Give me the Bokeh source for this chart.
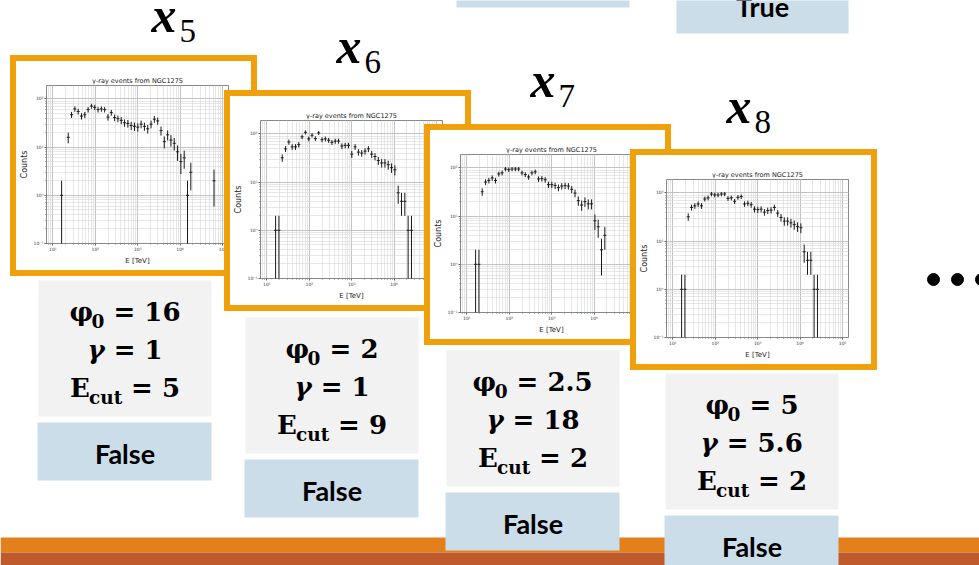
import math

from bokeh.core.properties import value
from bokeh.embed import file_html
from bokeh.layouts import column
from bokeh.models import ColumnDataSource, CustomJSTickFormatter, LogTicker, Range1d
from bokeh.plotting import figure
from bokeh.resources import INLINE

# ---------------------------------------------------------------- data
# bin centres of the energy histogram [TeV]
energy_tev = [16.07, 19.24, 23.02, 27.56, 32.99, 39.49, 47.27, 56.58, 67.73, 81.08,
              97.05, 116.2, 139.1, 166.5, 199.3, 238.5, 285.5, 341.8, 409.1, 489.7,
              586.1, 701.6, 839.8, 1005, 1203, 1440, 1724, 2064, 2471, 2957,
              3540, 4238, 5073, 6072, 7268, 8700, 10414, 12466, 14922, 17862,
              21380, 25592, 30634, 36669, 43893, 52540, 62891, 75281]

# counted events per bin for the four simulated samples (0 = empty bin)
counts_x5 = [1, 0, 16, 47, 62, 55, 44, 47, 60, 71, 67, 60, 62, 60, 42, 52, 41, 39, 36, 32,
             31, 28, 27, 26, 30, 27, 24, 30, 38, 35, 22, 13, 18, 14, 12, 8, 5, 6, 1, 3,
             0, 0, 0, 0, 0, 0, 2, 0]
counts_x6 = [1, 1, 32, 49, 68, 54, 54, 60, 87, 108, 79, 94, 80, 105, 76, 79, 74, 67, 71, 71,
             56, 58, 58, 38, 54, 42, 40, 44, 49, 38, 34, 28, 25, 25, 23, 20, 18, 6, 4, 4,
             1, 1, 0, 0, 0, 0, 0, 0]
counts_x7 = [1, 1, 32, 51, 55, 62, 55, 75, 79, 95, 92, 95, 95, 95, 79, 73, 65, 79, 83, 59,
             60, 57, 45, 45, 43, 39, 42, 43, 42, 36, 30, 21, 17, 20, 18, 18, 8, 6, 2, 4,
             0, 0, 0, 0, 0, 0, 0, 0]
counts_x8 = [1, 1, 32, 50, 54, 59, 54, 75, 79, 95, 91, 91, 95, 95, 77, 79, 67, 81, 84, 59,
             61, 57, 46, 45, 46, 40, 43, 44, 50, 38, 31, 26, 26, 24, 22, 20, 19, 6, 4, 4,
             1, 1, 0, 0, 0, 0, 0, 0]

sample_ids = ["5", "6", "7", "8"]
phi0_values = ["16", "2", "2.5", "5"]
gamma_values = ["1", "1", "18", "5.6"]
ecut_values = ["5", "9", "2", "2"]
verdicts = ["False", "False", "False", "False"]
top_verdicts = ["", "True"]

chart_title = "γ-ray events from NGC1275"
x_label = "E [TeV]"
y_label = "Counts"

# ---------------------------------------------------------------- style
W, H = 979, 565
FRAME_ORANGE = "#F0A00A"
STRIPE_ORANGE = "#E4801B"
STRIPE_RUST = "#BE5A2C"
CARD_GREY = "#F2F2F2"
CARD_BLUE = "#CBDDE9"
SERIF = "DejaVu Serif"
MATH = "Liberation Serif"
SANS = "Lato"

# card geometry: orange frame corner, label baseline anchor, parameter box corner
cards = [
    dict(frame=(10, 55), label=(151, 32), box=(38, 280)),
    dict(frame=(224, 90), label=(336, 63), box=(245, 317)),
    dict(frame=(424, 124), label=(530, 97), box=(446, 350)),
    dict(frame=(630, 149), label=(726, 123), box=(665, 373)),
]
BOX_W, BOX_H = 173, 136
VERDICT_H = 58
FRAME_W, FRAME_H, FRAME_T = 247, 221, 6

# the text glyph anchors its "alphabetic" baseline a little low; lift by a share of the size
LIFT = 0.39


def base_y(y, size, k=LIFT):
    return y - k * size


# ---------------------------------------------------------------- slide canvas
bg = figure(width=W, height=H, x_range=Range1d(0, W), y_range=Range1d(H, 0),
            output_backend="svg", toolbar_location=None, min_border=0,
            x_axis_location=None, y_axis_location=None, outline_line_color=None,
            background_fill_color="white", border_fill_color="white")
bg.grid.visible = False

# footer stripes
bg.quad(left=[0, 0], right=[W, W], top=[537, 552], bottom=[552, H],
        fill_color=[STRIPE_ORANGE, STRIPE_RUST], line_color=None)

# verdict boxes of the previous row, cut by the top edge
bg.quad(left=[456, 676], right=[629, 848], top=[-51, -25], bottom=[7, 33],
        fill_color=CARD_BLUE, line_color=None)
bg.text(x=[(456 + 629) / 2, (676 + 848) / 2], y=[base_y(-16, 27), base_y(17, 27)],
        text=top_verdicts, text_font=value(SANS), text_font_style="bold",
        text_font_size="27px", text_align="center", text_baseline="alphabetic",
        text_color="black")

# continuation dots
bg.scatter(x=[933, 957, 981], y=[279, 279, 279], size=12, color="black")

# approximate advance widths (em) of DejaVu Serif Bold, used to centre each formula line
EM = {"0": 0.696, "1": 0.696, "2": 0.696, "3": 0.696, "4": 0.696, "5": 0.696,
      "6": 0.696, "7": 0.696, "8": 0.696, "9": 0.696, ".": 0.38, "=": 0.838,
      " ": 0.348, "φ": 0.85, "γ": 0.66, "E": 0.734, "c": 0.593, "u": 0.712, "t": 0.478}


def width(s, size):
    return sum(EM.get(ch, 0.6) for ch in s) * size


MAIN, SUB = 26, 18.5
for card, sid, phi, gam, ecut, verdict in zip(cards, sample_ids, phi0_values,
                                             gamma_values, ecut_values, verdicts):
    bx, by = card["box"]
    cx = bx + BOX_W / 2
    bg.quad(left=[bx], right=[bx + BOX_W], top=[by], bottom=[by + BOX_H],
            fill_color=CARD_GREY, line_color=None)
    bg.quad(left=[bx - 1], right=[bx + BOX_W], top=[by + BOX_H + 6],
            bottom=[by + BOX_H + 6 + VERDICT_H], fill_color=CARD_BLUE, line_color=None)
    bg.text(x=[cx], y=[base_y(by + BOX_H + 6 + 42, 27)], text=[verdict],
            text_font=value(SANS), text_font_style="bold", text_font_size="27px",
            text_align="center", text_baseline="alphabetic", text_color="black")

    lines = [("φ", "0", phi, "bold", 42), ("γ", "", gam, "bold italic", 80),
             ("E", "cut", ecut, "bold", 118)]
    for sym, sub, val, sym_style, dy in lines:
        rhs = "= " + val
        gap = 0.348 * MAIN
        total = width(sym, MAIN) + width(sub, SUB) + gap + width(rhs, MAIN)
        x0 = cx - total / 2
        base = by + dy
        bg.text(x=[x0], y=[base_y(base, MAIN)], text=[sym], text_font=value(SERIF),
                text_font_style=sym_style, text_font_size=f"{MAIN}px",
                text_align="left", text_baseline="alphabetic", text_color="black")
        x1 = x0 + width(sym, MAIN)
        if sub:
            bg.text(x=[x1], y=[base_y(base + 6, SUB)], text=[sub], text_font=value(SERIF),
                    text_font_style="bold", text_font_size=f"{SUB}px",
                    text_align="left", text_baseline="alphabetic", text_color="black")
        x2 = x1 + width(sub, SUB) + gap
        bg.text(x=[x2], y=[base_y(base, MAIN)], text=[rhs], text_font=value(SERIF),
                text_font_style="bold", text_font_size=f"{MAIN}px",
                text_align="left", text_baseline="alphabetic", text_color="black")

    # sample label  x_i
    lx, ly = card["label"]
    bg.text(x=[lx], y=[base_y(ly, 50, 0.36)], text=["x"], text_font=value(MATH),
            text_font_style="bold italic", text_font_size="50px",
            text_align="left", text_baseline="alphabetic", text_color="black")
    bg.text(x=[lx + 28], y=[base_y(ly + 10, 33, 0.36)], text=[sid], text_font=value(MATH),
            text_font_style="normal", text_font_size="33px",
            text_align="left", text_baseline="alphabetic", text_color="black")

# ---------------------------------------------------------------- spectra
sup_formatter = CustomJSTickFormatter(code="""
    const sup = {"-": "\u207b", "0": "\u2070", "1": "\u00b9", "2": "\u00b2", "3": "\u00b3",
                 "4": "\u2074", "5": "\u2075", "6": "\u2076", "7": "\u2077", "8": "\u2078",
                 "9": "\u2079"};
    const e = Math.round(Math.log10(tick));
    return "10" + String(e).split("").map(c => sup[c]).join("");
""")


def spectrum_panel(counts, corner):
    pts = [(e, c) for e, c in zip(energy_tev, counts) if c > 0]
    es = [e for e, _ in pts]
    cs = [c for _, c in pts]
    lo = [max(c - math.sqrt(c), 1e-3) for c in cs]
    hi = [c + math.sqrt(c) for c in cs]
    src = ColumnDataSource(dict(e=es, c=cs, lo=lo, hi=hi))

    inner_w = FRAME_W - 2 * FRAME_T
    inner_h = FRAME_H - 2 * FRAME_T
    # the canvas spans the full bordered box (its right/bottom edge runs under the
    # border), so the right and bottom margins include the border width twice
    p = figure(width=inner_w, height=inner_h, x_axis_type="log", y_axis_type="log",
               x_range=Range1d(7.08, 1.38e5), y_range=Range1d(0.1, 190),
               output_backend="svg", toolbar_location=None, title=chart_title,
               min_border_left=30, min_border_right=35, min_border_top=24,
               min_border_bottom=39, background_fill_color="white",
               border_fill_color="white", outline_line_color="#555555",
               outline_line_width=0.7)
    p.title.text_font = "DejaVu Sans"
    p.title.text_font_size = "6.5px"
    p.title.text_font_style = "normal"
    p.title.text_color = "#222222"
    p.title.align = "center"
    p.title.standoff = 1

    for ax in (p.xaxis[0], p.yaxis[0]):
        ax.ticker = LogTicker(desired_num_ticks=6, num_minor_ticks=10)
        ax.formatter = sup_formatter
        ax.major_label_text_font = "DejaVu Sans"
        ax.major_label_text_font_size = "4.5px"
        ax.major_label_text_color = "#333333"
        ax.major_label_standoff = 1
        ax.axis_label_text_font = "DejaVu Sans"
        ax.axis_label_text_font_style = "normal"
        ax.axis_label_text_color = "#222222"
        ax.axis_label_standoff = 2
        ax.axis_line_color = None
        ax.major_tick_in = 0
        ax.major_tick_out = 2
        ax.minor_tick_in = 0
        ax.minor_tick_out = 1
        ax.major_tick_line_color = "#555555"
        ax.minor_tick_line_color = "#777777"
    p.xaxis.axis_label = x_label
    p.xaxis.axis_label_text_font_size = "7px"
    p.yaxis.axis_label = y_label
    p.yaxis.axis_label_text_font_size = "8px"

    for g in (p.xgrid[0], p.ygrid[0]):
        g.grid_line_color = "#b8b8b8"
        g.grid_line_width = 0.7
        g.minor_grid_line_color = "#d6d6d6"
        g.minor_grid_line_width = 0.6

    p.segment(x0="e", y0="lo", x1="e", y1="hi", source=src, line_color="#1a1a1a",
              line_width=1)
    p.scatter(x="e", y="c", source=src, marker="dash", size=3, line_color="#1a1a1a",
              line_width=1)

    left, top = corner
    p.styles = {"position": "absolute", "left": f"{left}px", "top": f"{top}px",
                "border": f"{FRAME_T}px solid {FRAME_ORANGE}",
                "box-sizing": "content-box", "background-color": "white"}
    return p


panels = [spectrum_panel(c, card["frame"])
          for c, card in zip([counts_x5, counts_x6, counts_x7, counts_x8], cards)]

# the slide sits in its own column so its frame is not aligned with the spectra;
# the spectra live in an overlay column pinned on top of it
slide = column(bg, width=W, height=H)
overlay = column(*panels, width=W, height=H)
overlay.styles = {"position": "absolute", "left": "0px", "top": "0px"}

root = column(slide, overlay, width=W, height=H)
root.styles = {"position": "relative"}

open("out.html", "w").write(file_html(root, INLINE, title="Spectra"))
